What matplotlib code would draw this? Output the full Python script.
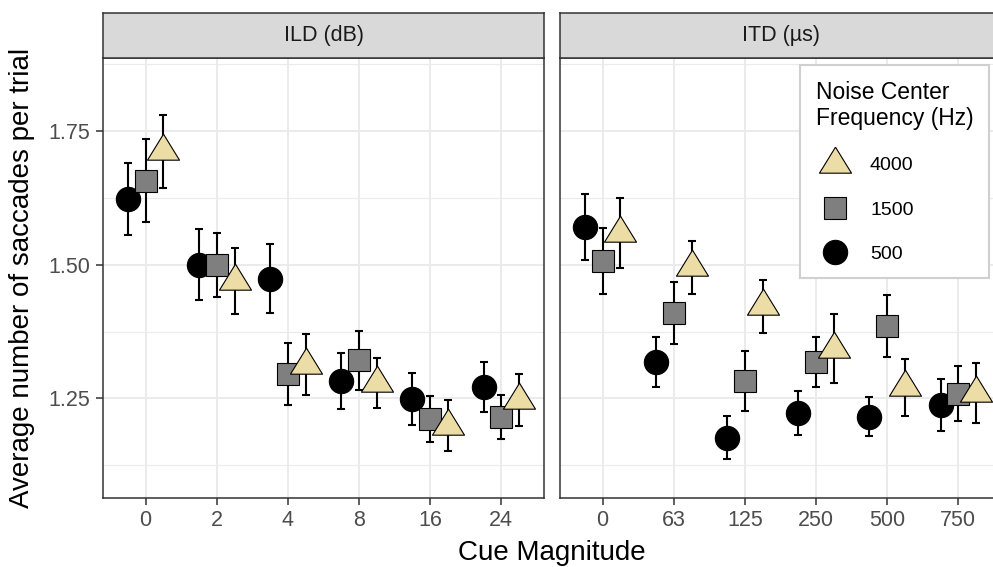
import numpy as np
import matplotlib
matplotlib.use('Agg')
import matplotlib.pyplot as plt
from matplotlib.lines import Line2D

plt.rcParams['font.family'] = ['Liberation Sans', 'DejaVu Sans']

# ---- data ----
ild_levels = ['0', '2', '4', '8', '16', '24']
itd_levels = ['0', '63', '125', '250', '500', '750']
freqs = ['500', '1500', '4000']

ild_mean_500 = [1.622, 1.500, 1.474, 1.283, 1.249, 1.272]
ild_err_500 = [0.067, 0.067, 0.065, 0.052, 0.048, 0.047]
ild_mean_1500 = [1.657, 1.500, 1.296, 1.321, 1.211, 1.216]
ild_err_1500 = [0.077, 0.060, 0.058, 0.055, 0.043, 0.041]
ild_mean_4000 = [1.712, 1.469, 1.313, 1.279, 1.199, 1.247]
ild_err_4000 = [0.068, 0.062, 0.057, 0.047, 0.048, 0.048]

itd_mean_500 = [1.570, 1.318, 1.177, 1.222, 1.216, 1.238]
itd_err_500 = [0.062, 0.046, 0.040, 0.041, 0.036, 0.048]
itd_mean_1500 = [1.507, 1.409, 1.283, 1.318, 1.386, 1.259]
itd_err_1500 = [0.061, 0.058, 0.056, 0.047, 0.058, 0.052]
itd_mean_4000 = [1.559, 1.495, 1.422, 1.343, 1.271, 1.261]
itd_err_4000 = [0.066, 0.050, 0.050, 0.064, 0.053, 0.056]

# triangle with its centroid on the data point (like R pch 24)
tri = [(0, 17.33), (-16, -8.67), (16, -8.67), (0, 17.33)]
styles = {
    '500': dict(marker='o', ms=17.5, mfc='black'),
    '1500': dict(marker='s', ms=15.8, mfc='#7F7F7F'),
    '4000': dict(marker=tri, ms=25, mfc='#ECDCA6'),
}
dodge = {'500': -0.25, '1500': 0.0, '4000': 0.25}

panels = [
    ('ILD (dB)', ild_levels,
     {'500': (ild_mean_500, ild_err_500), '1500': (ild_mean_1500, ild_err_1500),
      '4000': (ild_mean_4000, ild_err_4000)}),
    ('ITD (\u00b5s)', itd_levels,
     {'500': (itd_mean_500, itd_err_500), '1500': (itd_mean_1500, itd_err_1500),
      '4000': (itd_mean_4000, itd_err_4000)}),
]

W, H = 993, 567
fig = plt.figure(figsize=(W / 100, H / 100), dpi=100)


def box(x0, y0, x1, y1):
    return [x0 / W, 1 - y1 / H, (x1 - x0) / W, (y1 - y0) / H]


grid_col = '#EBEBEB'
border_col = '#333333'
lefts = [103, 560]
axes = []
for k, (title, levels, series) in enumerate(panels):
    x0 = lefts[k]
    ax = fig.add_axes(box(x0, 58, x0 + 441, 498))
    axes.append(ax)
    xpos = np.arange(1, len(levels) + 1)
    for f in freqs:
        m, e = series[f]
        ax.errorbar(xpos + dodge[f], m, yerr=e, fmt='none', ecolor='black',
                    elinewidth=1.5, capsize=2.6, capthick=1.5, zorder=3)
    for f in freqs:
        m, e = series[f]
        ax.plot(xpos + dodge[f], m, linestyle='none', mec='black', mew=0.8,
                zorder=4, **styles[f])
    ax.set_xlim(0.4, len(levels) + 0.6)
    ax.set_ylim(1.064, 1.886)
    ax.set_xticks(xpos)
    ax.set_xticklabels(levels)
    ax.set_yticks([1.25, 1.50, 1.75])
    ax.set_yticks([1.125, 1.375, 1.625, 1.875], minor=True)
    ax.grid(True, which='major', color=grid_col, lw=1.4, zorder=0)
    ax.grid(True, which='minor', axis='y', color=grid_col, lw=0.8, zorder=0)
    ax.set_axisbelow(True)
    ax.tick_params(axis='both', which='major', length=5, width=1.1, color=border_col,
                   labelsize=15.5, labelcolor='#4D4D4D', pad=4)
    ax.tick_params(axis='y', which='minor', length=0)
    if k == 0:
        ax.set_yticklabels(['1.25', '1.50', '1.75'])
    else:
        ax.tick_params(axis='y', which='major', length=0, labelleft=False)
    for s in ax.spines.values():
        s.set_color(border_col)
        s.set_linewidth(1.1)

    # facet strip
    sx = fig.add_axes(box(x0, 13, x0 + 441, 58))
    sx.set_facecolor('#D9D9D9')
    sx.set_xticks([])
    sx.set_yticks([])
    for s in sx.spines.values():
        s.set_color(border_col)
        s.set_linewidth(1.1)
    sx.text(0.5, 0.5, title, transform=sx.transAxes, ha='center', va='center',
            fontsize=15.5, color='#1A1A1A')

fig.text(22 / W, 1 - 278 / H, 'Average number of saccades per trial', rotation=90,
         ha='center', va='center', fontsize=20)
fig.text(552 / W, 1 - 553 / H, 'Cue Magnitude', ha='center', va='center', fontsize=20)

handles = [Line2D([], [], linestyle='none', mec='black', mew=0.8, **styles[f])
           for f in ['4000', '1500', '500']]
leg = axes[1].legend(handles, ['4000', '1500', '500'],
                     title='Noise Center\nFrequency (Hz)',
                     loc='upper left', bbox_to_anchor=(800 / W, 1 - 65 / H),
                     bbox_transform=fig.transFigure, frameon=True, fancybox=False,
                     edgecolor='#D0D0D0', framealpha=1, fontsize=14, title_fontsize=16.5,
                     alignment='left', borderpad=0.8, labelspacing=1.37,
                     handletextpad=0.8, handlelength=2.0, borderaxespad=0)
leg.get_frame().set_linewidth(1.5)
leg.set_zorder(10)

fig.savefig('out.png', dpi=100)
